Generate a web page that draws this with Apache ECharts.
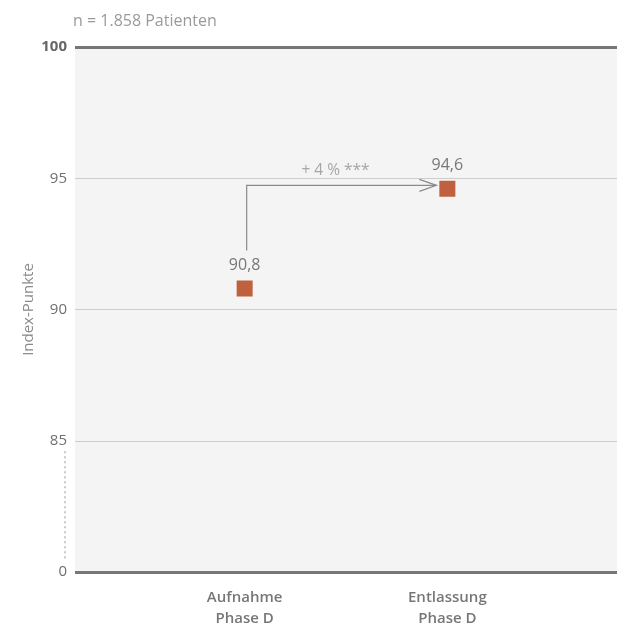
<!DOCTYPE html>
<html><head><meta charset="utf-8">
<script src="https://cdn.jsdelivr.net/npm/echarts@6/dist/echarts.min.js"></script>
<style>html,body{margin:0;padding:0;background:#fff}#c{width:617px;height:626px}</style>
</head><body><div id="c"></div>
<script>
const categories = ['Aufnahme\nPhase D', 'Entlassung\nPhase D'];
const categoryPos = [1, 2];
const values = [90.8, 94.6];
const valueLabels = ['90,8', '94,6'];
const yTickLabels = {80: '0', 85: '85', 90: '90', 95: '95', 100: '100'};
const arrowPath = [[1.01, 92.25], [1.01, 94.73], [1.946, 94.73]];
const arrowLabel = '+ 4 % ***';
const subtitle = 'n = 1.858 Patienten';
const yName = 'Index-Punkte';

const FONT = '"Open Sans", "Noto Sans", sans-serif';
const chart = echarts.init(document.getElementById('c'));
chart.setOption({
  animation: false,
  title: {text: subtitle, left: 68, top: 8, textStyle: {fontFamily: FONT, fontSize: 16, fontWeight: 'normal', color: '#9a9a9a'}},
  grid: {left: 75, right: 0, top: 47, bottom: 54, containLabel: false, outerBoundsMode: 'none',
    show: true, backgroundColor: '#f4f4f4', borderWidth: 0},
  xAxis: {
    type: 'value', min: 0.163, max: 2.837,
    axisLine: {show: false}, axisTick: {show: false}, splitLine: {show: false},
    axisLabel: {
      customValues: categoryPos, margin: 15, lineHeight: 21,
      fontFamily: FONT, fontSize: 15, fontWeight: 600, color: '#777',
      formatter: v => categories[categoryPos.indexOf(Math.round(v))] || ''
    }
  },
  yAxis: {
    type: 'value', min: 80, max: 100, interval: 5,
    name: yName, nameLocation: 'middle', nameGap: 39, nameRotate: 90, nameMoveOverlap: false,
    nameTextStyle: {fontFamily: FONT, fontSize: 15, color: '#8a8a8a'},
    axisLine: {show: false}, axisTick: {show: false},
    splitLine: {show: true, lineStyle: {color: '#cccccc', width: 1}},
    axisLabel: {
      margin: 8, fontFamily: FONT, fontSize: 15, color: '#6f6f6f',
      formatter: v => v === 100 ? '{b|' + yTickLabels[v] + '}' : (yTickLabels[v] || ''),
      rich: {b: {fontFamily: FONT, fontSize: 15, fontWeight: 'bold', color: '#666'}}
    }
  },
  series: [
    {
      type: 'scatter', symbol: 'rect', symbolSize: 16,
      itemStyle: {color: '#c0603f', opacity: 1},
      data: values.map((v, i) => [categoryPos[i], v]),
      label: {show: true, position: 'top', distance: 7, fontFamily: FONT, fontSize: 16, color: '#777',
        formatter: p => valueLabels[p.dataIndex]},
      markLine: {
        silent: true, symbol: 'none', label: {show: false},
        lineStyle: {color: '#777', width: 3, type: 'solid', opacity: 1},
        data: [{yAxis: 100}, {yAxis: 80}]
      },
      z: 5
    },
    {
      type: 'custom', silent: true, clip: false, z: 4,
      data: [0],
      renderItem: (params, api) => {
        const pts = arrowPath.map(p => api.coord(p));
        const end = pts[pts.length - 1];
        const mid = api.coord([(arrowPath[1][0] + arrowPath[2][0]) / 2, arrowPath[1][1]]);
        const yTop = api.coord([0.163, 84.6]);
        const yBot = api.coord([0.163, 80.5]);
        return {type: 'group', children: [
          {type: 'polyline', shape: {points: pts}, style: {stroke: '#8a8a8a', lineWidth: 1.2, fill: null}},
          {type: 'polyline', shape: {points: [[end[0] - 17, end[1] - 6], end, [end[0] - 17, end[1] + 6]]},
            style: {stroke: '#8a8a8a', lineWidth: 1.2, fill: null}},
          {type: 'text', x: mid[0] - 6, y: mid[1] - 15,
            style: {text: arrowLabel, fontFamily: FONT, fontSize: 15.5, fill: '#a6a6a6', align: 'center', verticalAlign: 'middle'}},
          {type: 'line', shape: {x1: yTop[0] - 10, y1: yTop[1], x2: yBot[0] - 10, y2: yBot[1]},
            style: {stroke: '#c8c8c8', lineWidth: 2, lineDash: [2, 3]}}
        ]};
      }
    }
  ]
});
</script></body></html>
